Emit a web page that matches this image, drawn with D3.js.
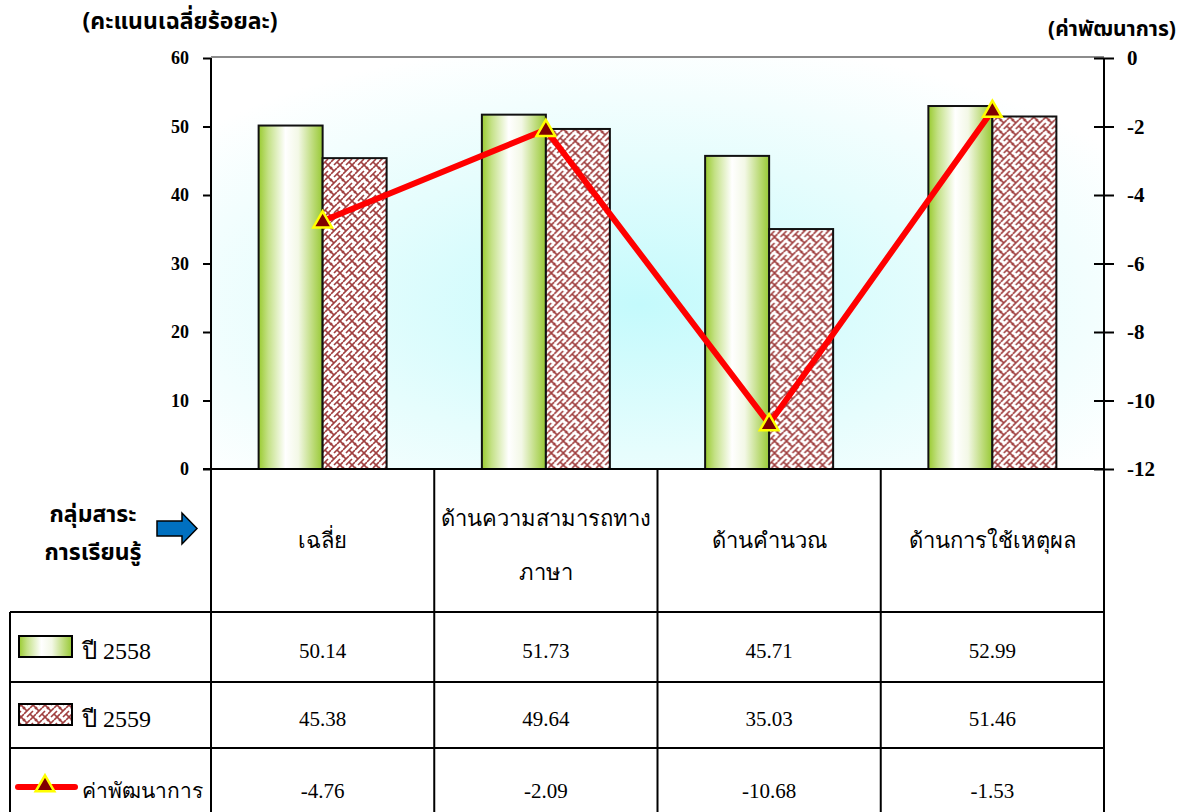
<!DOCTYPE html>
<html>
<head>
<meta charset="utf-8">
<script src="https://cdn.jsdelivr.net/npm/d3@7"></script>
<style>
  body { margin: 0; background: #fff; }
  svg { display: block; }
</style>
</head>
<body>
<div id="vis"></div>
<script>
// chart data
const categories = ["เฉลี่ย", "ด้านความสามารถทางภาษา", "ด้านคำนวณ", "ด้านการใช้เหตุผล"];
const categoryLines = [["เฉลี่ย"], ["ด้านความสามารถทาง", "ภาษา"], ["ด้านคำนวณ"], ["ด้านการใช้เหตุผล"]];
const seriesNames = ["ปี 2558", "ปี 2559"];
const score2558 = [50.14, 51.73, 45.71, 52.99];
const score2559 = [45.38, 49.64, 35.03, 51.46];
const development = [-4.76, -2.09, -10.68, -1.53];
const leftTicks = [0, 10, 20, 30, 40, 50, 60];
const rightTicks = [0, -2, -4, -6, -8, -10, -12];

const width = 1192;
const height = 812;

// plot area
const plot = { left: 211, right: 1104, top: 58, bottom: 469 };
const tableLeft = 10;
const rowLines = [612, 682, 748, 812];

const sansThai = "Tahoma, 'Noto Sans Thai', 'Noto Sans', 'DejaVu Sans', sans-serif";
const serifThai = "'Liberation Serif', 'Times New Roman', serif";
const serifNum = "'Liberation Serif', 'Times New Roman', serif";

const svg = d3.select("#vis").append("svg")
  .attr("width", width)
  .attr("height", height);

const defs = svg.append("defs");

// background of plot area: pale cyan glow in the middle
const bg = defs.append("radialGradient").attr("id", "bgGlow")
  .attr("cx", "48%").attr("cy", "60%").attr("r", "65%");
bg.append("stop").attr("offset", "0%").attr("stop-color", "#c4fafc");
bg.append("stop").attr("offset", "55%").attr("stop-color", "#e6fdfd");
bg.append("stop").attr("offset", "100%").attr("stop-color", "#ffffff");

// green cylinder look for 2558 bars
const green = defs.append("linearGradient").attr("id", "greenBar")
  .attr("x1", "0%").attr("x2", "100%").attr("y1", "0%").attr("y2", "0%");
green.append("stop").attr("offset", "0%").attr("stop-color", "#9acb30");
green.append("stop").attr("offset", "15%").attr("stop-color", "#c4e186");
green.append("stop").attr("offset", "42%").attr("stop-color", "#ffffff");
green.append("stop").attr("offset", "62%").attr("stop-color", "#f3f8e6");
green.append("stop").attr("offset", "85%").attr("stop-color", "#bcdb78");
green.append("stop").attr("offset", "100%").attr("stop-color", "#98c935");

// weave pattern for 2559 bars
const weave = defs.append("pattern").attr("id", "weave")
  .attr("patternUnits", "userSpaceOnUse")
  .attr("width", 12).attr("height", 12);
weave.append("rect").attr("width", 12).attr("height", 12).attr("fill", "#ffffff");
weave.append("path")
  .attr("d", "M0,6 L6,0 M6,12 L12,6 M-1,13 L1,11 M11,1 L13,-1 M3,9 L9,3")
  .attr("stroke", "#a04040").attr("stroke-width", 1.7).attr("fill", "none");
weave.append("path")
  .attr("d", "M6,6 L12,12 M0,0 L3,3")
  .attr("stroke", "#a04040").attr("stroke-width", 1.7).attr("fill", "none");

// scales
const x0 = d3.scaleBand().domain(categories).range([plot.left, plot.right]);
const barW = 64;
const x1 = d3.scaleBand().domain(seriesNames)
  .range([x0.bandwidth() / 2 - barW, x0.bandwidth() / 2 + barW]);
const yLeft = d3.scaleLinear().domain([0, 60]).range([plot.bottom, plot.top]);
const yRight = d3.scaleLinear().domain([-12, 0]).range([plot.bottom, plot.top]);

// plot background
svg.append("rect")
  .attr("x", plot.left).attr("y", plot.top)
  .attr("width", plot.right - plot.left).attr("height", plot.bottom - plot.top)
  .attr("fill", "url(#bgGlow)");
svg.append("line")
  .attr("x1", plot.left).attr("x2", plot.right)
  .attr("y1", plot.top - 1).attr("y2", plot.top - 1)
  .attr("stroke", "#8c8c8c").attr("stroke-width", 2);

// bars
const groups = svg.selectAll(".group")
  .data(categories)
  .enter().append("g")
  .attr("transform", d => `translate(${x0(d)},0)`);

groups.append("rect")
  .attr("x", d => x1(seriesNames[0]))
  .attr("y", (d, i) => yLeft(score2558[i]))
  .attr("width", x1.bandwidth())
  .attr("height", (d, i) => plot.bottom - yLeft(score2558[i]))
  .attr("fill", "url(#greenBar)")
  .attr("stroke", "#111").attr("stroke-width", 2);

groups.append("rect")
  .attr("x", d => x1(seriesNames[1]))
  .attr("y", (d, i) => yLeft(score2559[i]))
  .attr("width", x1.bandwidth())
  .attr("height", (d, i) => plot.bottom - yLeft(score2559[i]))
  .attr("fill", "url(#weave)")
  .attr("stroke", "#111").attr("stroke-width", 2);

// left axis
const leftAxis = svg.append("g")
  .attr("transform", `translate(${plot.left},0)`)
  .call(d3.axisLeft(yLeft).tickValues(leftTicks).tickSize(8).tickPadding(14));
leftAxis.select(".domain").remove();
leftAxis.selectAll(".tick line").attr("stroke", "#000").attr("stroke-width", 2);
leftAxis.selectAll("text")
  .attr("font-family", serifNum).attr("font-weight", "bold")
  .attr("font-size", 18).attr("fill", "#000");

// right axis, ticks cross the line, plain hyphen for negatives
const rightAxis = svg.append("g")
  .attr("transform", `translate(${plot.right},0)`)
  .call(d3.axisRight(yRight).tickValues(rightTicks).tickFormat(d => String(d))
    .tickSize(10).tickPadding(13));
rightAxis.select(".domain").remove();
rightAxis.selectAll(".tick line")
  .attr("x1", -10).attr("x2", 10)
  .attr("stroke", "#000").attr("stroke-width", 2);
rightAxis.selectAll("text")
  .attr("font-family", serifNum).attr("font-weight", "bold")
  .attr("font-size", 21).attr("fill", "#000");

// table grid and axis lines
const grid = svg.append("g").attr("stroke", "#000").attr("stroke-width", 2);
const colEdges = categories.map(d => x0(d)).concat([plot.right]);
colEdges.forEach((x, i) => {
  const top = (i === 0 || i === colEdges.length - 1) ? plot.top : plot.bottom;
  grid.append("line").attr("x1", x).attr("x2", x).attr("y1", top).attr("y2", height);
});
grid.append("line").attr("x1", tableLeft).attr("x2", tableLeft)
  .attr("y1", rowLines[0]).attr("y2", height);
grid.append("line").attr("x1", plot.left - 8).attr("x2", plot.right)
  .attr("y1", plot.bottom).attr("y2", plot.bottom);
rowLines.slice(0, 3).forEach(y => {
  grid.append("line").attr("x1", tableLeft).attr("x2", plot.right).attr("y1", y).attr("y2", y);
});

// development line on the right axis
const line = d3.line()
  .x((d, i) => x0(categories[i]) + x0.bandwidth() / 2)
  .y(d => yRight(d));

svg.append("path")
  .datum(development)
  .attr("d", line)
  .attr("fill", "none")
  .attr("stroke", "#ff0000")
  .attr("stroke-width", 6)
  .attr("stroke-linejoin", "miter");

const tri = d3.symbol().type(d3.symbolTriangle).size(150);
svg.selectAll(".marker")
  .data(development)
  .enter().append("path")
  .attr("transform", (d, i) => `translate(${x0(categories[i]) + x0.bandwidth() / 2},${yRight(d) + 1})`)
  .attr("d", tri)
  .attr("fill", "#800000")
  .attr("stroke", "#ffff00")
  .attr("stroke-width", 2.5);

// axis titles
svg.append("text")
  .attr("x", 180).attr("y", 29)
  .attr("text-anchor", "middle")
  .attr("font-family", sansThai).attr("font-weight", "bold").attr("font-size", 23)
  .text("(คะแนนเฉลี่ยร้อยละ)");
svg.append("text")
  .attr("x", 1112).attr("y", 36)
  .attr("text-anchor", "middle")
  .attr("font-family", sansThai).attr("font-weight", "bold").attr("font-size", 21)
  .text("(ค่าพัฒนาการ)");

// category header cells
categoryLines.forEach((lines, i) => {
  const cx = x0(categories[i]) + x0.bandwidth() / 2;
  const startY = lines.length === 1 ? 548 : 526;
  lines.forEach((t, j) => {
    svg.append("text")
      .attr("x", cx).attr("y", startY + j * 54)
      .attr("text-anchor", "middle")
      .attr("font-family", serifThai).attr("font-size", 22)
      .text(t);
  });
});

// row label with arrow
svg.append("text")
  .attr("x", 93).attr("y", 522).attr("text-anchor", "middle")
  .attr("font-family", sansThai).attr("font-weight", "bold").attr("font-size", 23)
  .text("กลุ่มสาระ");
svg.append("text")
  .attr("x", 93).attr("y", 560).attr("text-anchor", "middle")
  .attr("font-family", sansThai).attr("font-weight", "bold").attr("font-size", 23)
  .text("การเรียนรู้");
svg.append("path")
  .attr("d", "M157,521 L182,521 L182,513 L197,528.5 L182,544 L182,536 L157,536 Z")
  .attr("fill", "#0070c0").attr("stroke", "#000").attr("stroke-width", 1.5);

// legend keys and values
const rows = [score2558, score2559, development];
const rowNames = ["ปี 2558", "ปี 2559", "ค่าพัฒนาการ"];
rows.forEach((vals, r) => {
  const mid = (rowLines[r] + rowLines[r + 1]) / 2;
  if (r < 2) {
    svg.append("rect")
      .attr("x", 19).attr("y", mid - 11)
      .attr("width", 53).attr("height", 21)
      .attr("fill", r === 0 ? "url(#greenBar)" : "url(#weave)")
      .attr("stroke", "#000").attr("stroke-width", 2);
  } else {
    svg.append("line")
      .attr("x1", 18).attr("x2", 75).attr("y1", mid + 7).attr("y2", mid + 7)
      .attr("stroke", "#ff0000").attr("stroke-width", 6).attr("stroke-linecap", "round");
    svg.append("path")
      .attr("transform", `translate(45,${mid + 6})`)
      .attr("d", tri)
      .attr("fill", "#800000").attr("stroke", "#ffff00").attr("stroke-width", 2.5);
  }
  svg.append("text")
    .attr("x", 82).attr("y", mid + (r < 2 ? 12 : 18))
    .attr("font-family", serifThai).attr("font-size", r < 2 ? 24 : 21)
    .text(rowNames[r]);
  vals.forEach((v, i) => {
    svg.append("text")
      .attr("x", x0(categories[i]) + x0.bandwidth() / 2)
      .attr("y", mid + (r < 2 ? 11 : 18))
      .attr("text-anchor", "middle")
      .attr("font-family", serifNum).attr("font-size", 21)
      .text(v.toFixed(2));
  });
});
</script>
</body>
</html>
